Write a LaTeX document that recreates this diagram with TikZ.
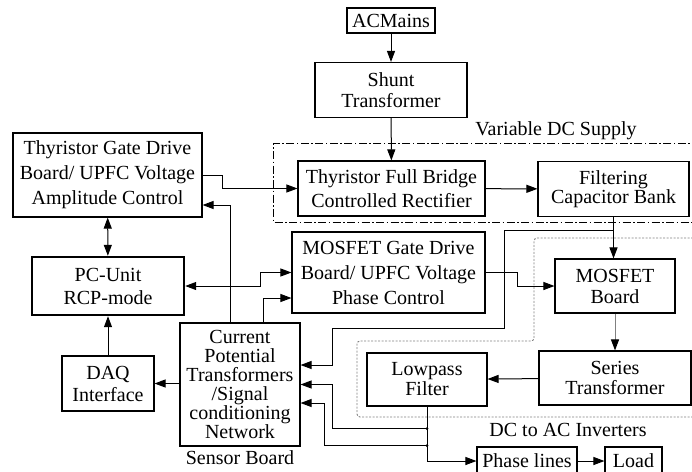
\documentclass[tikz,border=0pt]{standalone}
\usepackage{fontspec}
\setmainfont{Liberation Serif}
\usetikzlibrary{arrows.meta}

\begin{document}
\begin{tikzpicture}[x=1pt,y=-1pt,
box/.style={
    rectangle, draw,
    line width=1.1pt,
    align=center,
    inner sep=1pt,
    font=\fontsize{20}{21}\selectfont
},
lbl/.style={
    inner sep=0pt,
    font=\fontsize{20}{21}\selectfont
},
arr/.style={-{Triangle[length=11pt,width=8pt]}, line width=1pt},
darr/.style={{Triangle[length=11pt,width=8pt]}-{Triangle[length=11pt,width=8pt]}, line width=1pt},
garr/.style={-{Triangle[length=11pt,width=8pt,color=black]}, draw=gray, line width=1pt},
dcgroup/.style={line width=0.9pt, dash pattern=on 8pt off 2.5pt on 1.5pt off 2.5pt},
acgroup/.style={draw=gray, line width=0.9pt, dash pattern=on 2pt off 1.5pt, rounded corners=3pt}
]
\useasboundingbox (0,0) rectangle (692,471);
\clip (0,0) rectangle (692,471);

% groups
\draw[dcgroup] (700,143) -- (273,143) -- (273,222) -- (700,222);
\draw[acgroup] (700,238) -- (534,238) -- (534,341) -- (357,341) -- (357,417) -- (700,417);
\node[lbl] (vdc) at (556,131) {Variable DC Supply};
\node[lbl] (dcac) at (568,430) {DC to AC Inverters};

% blocks
\node[box, minimum width=88pt, minimum height=25pt] (acmains) at (391,20.5) {ACMains};
\node[box, minimum width=152pt, minimum height=55pt] (shunt) at (391,90) {Shunt\\Transformer};
\node[box, minimum width=187pt, minimum height=55pt, font=\fontsize{20}{24}\selectfont] (thbridge) at (391.5,188.5) {Thyristor Full Bridge\\Controlled Rectifier};
\node[box, minimum width=151pt, minimum height=55pt, font=\fontsize{20}{19}\selectfont] (filtcap) at (613.5,189) {Filtering\\Capacitor Bank};
\node[box, minimum width=189pt, minimum height=84pt, font=\fontsize{20}{25}\selectfont] (thgate) at (107.5,175) {Thyristor Gate Drive\\Board/ UPFC Voltage\\Amplitude Control};
\node[box, line width=2.4pt, minimum width=152pt, minimum height=58pt, font=\fontsize{20}{23}\selectfont] (pcunit) at (108,286) {PC-Unit\\RCP-mode};
\node[box, minimum width=193pt, minimum height=81pt, font=\fontsize{20}{25}\selectfont] (mosgate) at (388.5,272.5) {MOSFET Gate Drive\\Board/ UPFC Voltage\\Phase Control};
\node[box, minimum width=120pt, minimum height=54pt] (mosboard) at (615,286) {MOSFET\\Board};
\node[box, minimum width=152pt, minimum height=54pt, font=\fontsize{20}{20}\selectfont] (series) at (615,378) {Series\\Transformer};
\node[box, minimum width=120pt, minimum height=53pt, font=\fontsize{20}{20}\selectfont] (lowpass) at (427,379.5) {Lowpass\\Filter};
\node[box, minimum width=120pt, minimum height=123pt, font=\fontsize{20}{19}\selectfont] (sensor) at (240,384.5) {Current\\Potential\\Transformers\\/Signal\\conditioning\\Network};
\node[lbl] (sensorlbl) at (240,458) {Sensor Board};
\node[box, minimum width=92pt, minimum height=55pt, font=\fontsize{20}{22}\selectfont] (daq) at (108,383.5) {DAQ\\Interface};
\node[box, minimum width=100pt, minimum height=28pt] (phase) at (527,461) {Phase lines};
\node[box, minimum width=57pt, minimum height=28pt] (load) at (633.5,461) {Load};

% taps
\coordinate (tap) at ([yshift=-13.5pt]filtcap.south);
\coordinate (j1) at ([yshift=-22pt]lowpass.south);
\coordinate (j2) at ([yshift=-39pt]lowpass.south);
\fill (j1) circle (1.5pt);
\fill (j2) circle (1.5pt);

% power path
\draw[arr] (acmains) -- (shunt);
\draw[arr] (shunt) -- (thbridge);
\draw[arr] (thbridge) -- (filtcap);
\draw[arr] (filtcap.south) -- (filtcap.south |- mosboard.north);
\draw[garr] (mosboard) -- (series);
\draw[arr] (series) -- (lowpass);
\draw[arr] (lowpass.south) |- (phase.west);
\draw[arr] (phase) -- (load);

% control path
\draw[arr] (thgate.east) -- ++(20,0) |- (thbridge.west);
\draw[arr] (mosgate.east) -- ++(32,0) |- (mosboard.west);
\draw[darr] (thgate) -- (pcunit);
\draw[darr] (pcunit.east) -- ++(75,0) |- (mosgate.west);
\draw[arr] (daq) -- (pcunit);
\draw[arr] (sensor.west |- daq.east) -- (daq.east);
\draw[arr] ([xshift=-10pt]sensor.north) |- ([yshift=-30pt]thgate.east);
\draw[arr] ([xshift=23pt]sensor.north) |- ([yshift=-25.5pt]mosgate.west);

% measurements
\draw[arr] (tap) -| (504,328) -- (332,328) |- ([yshift=19.5pt]sensor.east);
\draw[arr] (j1) -| ([xshift=32pt]sensor.east) -- (sensor.east);
\draw[arr] (j2) -| ([xshift=24pt,yshift=-18.5pt]sensor.east) -- ([yshift=-18.5pt]sensor.east);

\end{tikzpicture}
\end{document}
